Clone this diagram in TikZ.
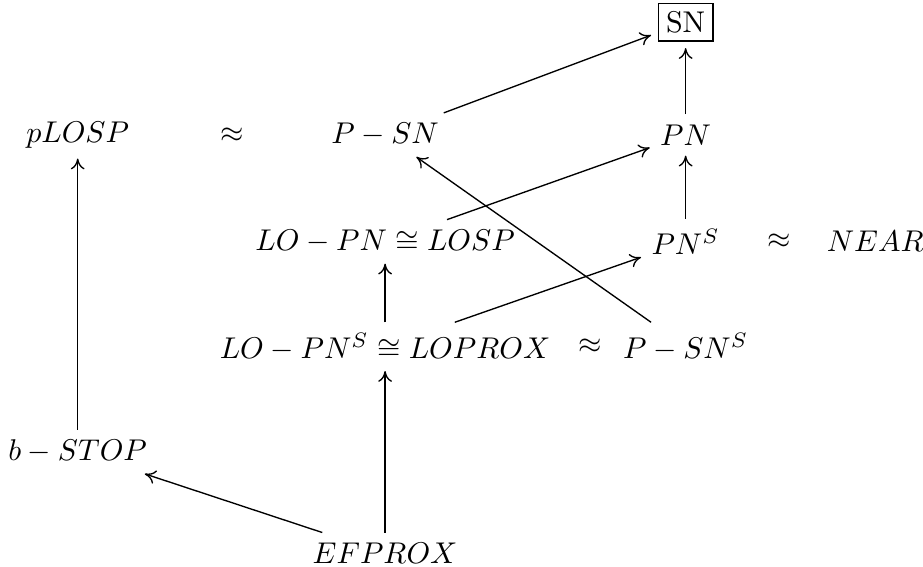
\documentclass[tikz,border=0pt]{standalone}
\usepackage{amsmath, amssymb}
\usepackage{tikz}
\usetikzlibrary{arrows.meta}

\tikzset{
  cell/.style={inner sep=3.3pt},
  boxcell/.style={draw, inner sep=2.6pt, outer sep=2.4pt},
  link/.style={->, line width=0.45pt}
}

\begin{document}
\begin{tikzpicture}[>={Computer Modern Rightarrow[length=3.6pt, width=4.6pt]}]
  \useasboundingbox (0,0) rectangle (10.81,6.64);

  % Node positions
  \node[boxcell] (SN)    at (8.03,6.38) {SN};
  \node[cell]    (pLOSP) at (0.91,5.06) {$pLOSP$};
  \node[cell]    (apA)   at (2.72,5.06) {$\approx$};
  \node[cell]    (PSN)   at (4.51,5.06) {$P-SN$};
  \node[cell]    (PN)    at (8.03,5.06) {$PN$};
  \node[cell]    (LOPN)  at (4.51,3.81) {$LO-PN\cong LOSP$};
  \node[cell]    (PNS)   at (8.03,3.81) {$PN^S$};
  \node[cell]    (apB)   at (9.13,3.81) {$\approx$};
  \node[cell]    (NEAR)  at (10.25,3.81) {$NEAR$};
  \node[cell]    (LOPNS) at (4.51,2.58) {$LO-PN^S\cong LOPROX$};
  \node[cell]    (apC)   at (6.91,2.58) {$\approx$};
  \node[cell]    (PSNS)  at (8.03,2.58) {$P-SN^S$};
  \node[cell]    (bSTOP) at (0.91,1.35) {$b-STOP$};
  \node[cell]    (EF)    at (4.51,0.16) {$EFPROX$};

  % Arrows
  \draw[link] (PN) -- (SN);
  \draw[link] (PSN) -- (SN);
  \draw[link] (LOPN) -- (PN);
  \draw[link] (PNS) -- (PN);
  \draw[link] (LOPNS) -- (LOPN);
  \draw[link] (LOPNS) -- (PNS);
  \draw[link] (PSNS) -- (PSN);
  \draw[link] (EF) -- (LOPNS);
  \draw[link] (EF) -- (bSTOP);
  \draw[link] (bSTOP) -- (pLOSP);

\end{tikzpicture}
\end{document}
